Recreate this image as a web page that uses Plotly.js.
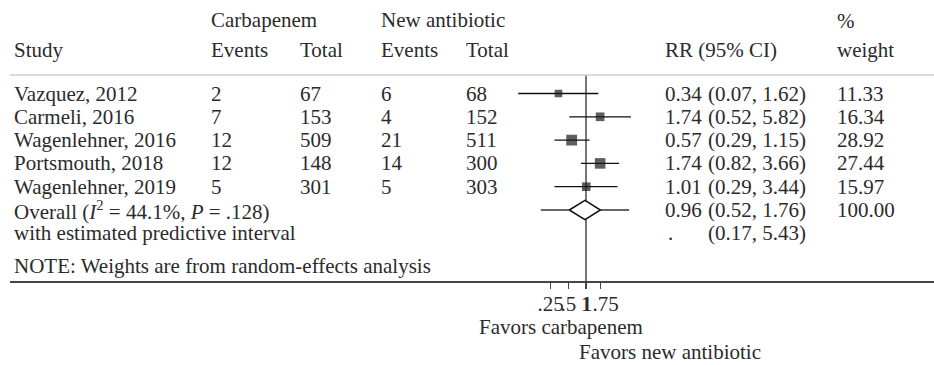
<!DOCTYPE html>
<html><head><meta charset="utf-8">
<script src="https://cdn.plot.ly/plotly-3.0.1.min.js"></script>
<style>html,body{margin:0;padding:0;background:#fff;}#chart{width:934px;height:365px;}</style>
</head><body><div id="chart"></div>
<script>
// ---- data ----
const studies = ["Vazquez, 2012","Carmeli, 2016","Wagenlehner, 2016","Portsmouth, 2018","Wagenlehner, 2019"];
const carbEvents = [2, 7, 12, 12, 5];
const carbTotal = [67, 153, 509, 148, 301];
const newEvents = [6, 4, 21, 14, 5];
const newTotal = [68, 152, 511, 300, 303];
const rr = [0.34, 1.74, 0.57, 1.74, 1.01];
const ciLo = [0.07, 0.52, 0.29, 0.82, 0.29];
const ciHi = [1.62, 5.82, 1.15, 3.66, 3.44];
const weight = [11.33, 16.34, 28.92, 27.44, 15.97];
const overallRR = 0.96, overallLo = 0.52, overallHi = 1.76, overallWeight = 100.00;
const predLo = 0.17, predHi = 5.43;
const overallLabel = "Overall (<i>I</i><sup>2</sup> = 44.1%, <i>P</i> = .128)";
const predLabel = "with estimated predictive interval";
const noteLabel = "NOTE: Weights are from random-effects analysis";
const tickVals = [0.25, 0.5, 1, 1.75];
const tickText = [".25", ".5", "1", "1.75"];

// ---- layout helpers ----
const W = 934, H = 365;
const FONT = "Liberation Serif, Times New Roman, serif";
const FS = 21;
const TXT = "#2b2b2b";
const nullPx = 586, pxPerDecade = 58.7, axisLeftPx = 10;
const rowTopPx = 93.5, rowPitch = 23.3, plotTopPx = 75, axisPx = 281;
const fmt = v => v.toFixed(2);

const xRange = [(axisLeftPx - nullPx) / pxPerDecade, (W - nullPx) / pxPerDecade];
const yRange = [(axisPx - rowTopPx) / rowPitch, (plotTopPx - rowTopPx) / rowPitch];

const ann = [];
function tx(text, px, y, yref, extra) {
  ann.push(Object.assign({text: text, x: px / W, xref: "paper", y: y, yref: yref,
    xanchor: "left", yanchor: "middle", showarrow: false,
    font: {family: FONT, size: FS, color: TXT}}, extra || {}));
}
const py = p => 1 - p / H;

// column positions (px)
const cStudy = 12, cCarbEv = 209, cCarbTot = 298, cNewEv = 379, cNewTot = 464, cEst = 663, cCI = 706, cW = 835;

// headers
tx("Carbapenem", cCarbEv, py(20), "paper");
tx("New antibiotic", cNewEv, py(20), "paper");
tx("%", cW, py(21), "paper");
tx("Study", cStudy, py(50), "paper");
tx("Events", cCarbEv, py(50), "paper");
tx("Total", cCarbTot, py(50), "paper");
tx("Events", cNewEv, py(50), "paper");
tx("Total", cNewTot, py(50), "paper");
tx("RR (95% CI)", cEst, py(50), "paper");
tx("weight", cW, py(50), "paper");

// rows
studies.forEach((s, i) => {
  tx(s, cStudy, i, "y");
  tx(String(carbEvents[i]), cCarbEv, i, "y");
  tx(String(carbTotal[i]), cCarbTot, i, "y");
  tx(String(newEvents[i]), cNewEv, i, "y");
  tx(String(newTotal[i]), cNewTot, i, "y");
  tx(fmt(rr[i]), cEst, i, "y");
  tx("(" + fmt(ciLo[i]) + ", " + fmt(ciHi[i]) + ")", cCI, i, "y");
  tx(fmt(weight[i]), cW, i, "y");
});
const oRow = studies.length, pRow = oRow + 1, nRow = oRow + 2.4;
tx(overallLabel, cStudy, oRow, "y");
tx(fmt(overallRR), cEst, oRow, "y");
tx("(" + fmt(overallLo) + ", " + fmt(overallHi) + ")", cCI, oRow, "y");
tx(fmt(overallWeight), cW, oRow, "y");
tx(predLabel, cStudy, pRow, "y");
tx(".", 666, pRow, "y");
tx("(" + fmt(predLo) + ", " + fmt(predHi) + ")", cCI, pRow, "y");
tx(noteLabel, cStudy, nRow, "y");

// footer labels
ann.push({text: "Favors carbapenem", x: 561 / W, xref: "paper", y: py(327), yref: "paper",
  xanchor: "center", yanchor: "middle", showarrow: false, font: {family: FONT, size: FS, color: TXT}});
tx("Favors new antibiotic", 577, py(352), "paper");

// ---- traces ----
const ciX = [], ciY = [];
rr.forEach((v, i) => { ciX.push(ciLo[i], ciHi[i], null); ciY.push(i, i, null); });

const dh = 0.41;
const traces = [
  {type: "scatter", mode: "lines", x: ciX, y: ciY, line: {color: "#111", width: 1.3}, hoverinfo: "skip"},
  {type: "scatter", mode: "lines", x: [predLo, overallLo, null, overallHi, predHi], y: [oRow, oRow, null, oRow, oRow],
    line: {color: "#111", width: 1.3}, hoverinfo: "skip"},
  {type: "scatter", mode: "markers", x: rr, y: studies.map((s, i) => i),
    marker: {symbol: "square", color: "#1a1a1a", size: weight.map(w => 1.6 * Math.sqrt(w) + 2.2), line: {width: 0}}},
  {type: "scatter", mode: "lines", x: [overallLo, overallRR, overallHi, overallRR, overallLo],
    y: [oRow, oRow - dh, oRow, oRow + dh, oRow], fill: "toself", fillcolor: "#fff",
    line: {color: "#111", width: 1.5}, hoverinfo: "skip"}
];

const layout = {
  width: W, height: H, margin: {l: 0, r: 0, t: 0, b: 0},
  paper_bgcolor: "#fff", plot_bgcolor: "rgba(0,0,0,0)", showlegend: false,
  xaxis: {type: "log", range: xRange, domain: [axisLeftPx / W, 1], showgrid: false, zeroline: false,
    showline: true, linecolor: "#444", linewidth: 1.6, ticks: "outside", ticklen: 6, tickwidth: 1.3, tickcolor: "#444",
    tickmode: "array", tickvals: tickVals, ticktext: tickText, tickangle: 0, ticklabelstandoff: -3,
    tickfont: {family: FONT, size: FS, color: TXT}, fixedrange: true},
  yaxis: {range: yRange, domain: [(H - axisPx) / H, (H - plotTopPx) / H], visible: false, fixedrange: true},
  shapes: [
    {type: "line", xref: "paper", x0: axisLeftPx / W, x1: 1, yref: "y domain", y0: 1, y1: 1,
      line: {color: "#cfcfcf", width: 1.5}},
    {type: "line", xref: "x", x0: 1, x1: 1, yref: "y domain", y0: 0, y1: 1, layer: "below",
      line: {color: "#555", width: 1.6}}
  ],
  annotations: ann
};

Plotly.newPlot("chart", traces, layout, {displayModeBar: false, staticPlot: true});
</script>
</body></html>
